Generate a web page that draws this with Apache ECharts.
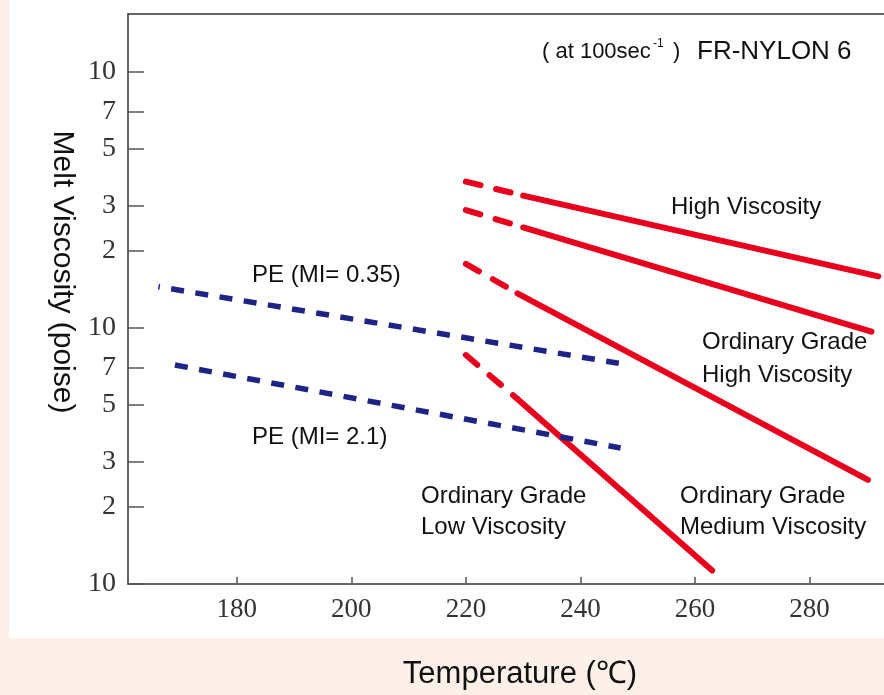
<!DOCTYPE html>
<html>
<head>
<meta charset="utf-8">
<script src="https://cdn.jsdelivr.net/npm/echarts@6/dist/echarts.min.js"></script>
<style>
html, body { margin: 0; padding: 0; background: #fdf0e9; }
#main { width: 884px; height: 695px; }
</style>
</head>
<body>
<div id="main"></div>
<script>
// melt viscosity (poise) vs temperature (C)
// red lines: dashed part below ~230C, solid above
var highViscDash = [[220, 3730], [230, 3290]];
var highViscSolid = [[230, 3290], [292, 1590]];
var ordHighDash = [[220, 2890], [230, 2470]];
var ordHighSolid = [[230, 2470], [290.8, 967]];
var ordMedDash = [[220, 1780], [229, 1366]];
var ordMedSolid = [[229, 1366], [290.2, 255]];
var ordLowDash = [[220, 784], [229, 528]];
var ordLowSolid = [[229, 528], [263, 113]];
// PE reference lines
var pe035 = [[166.3, 1450], [246.7, 728]];
var pe21 = [[169.2, 717], [247, 340]];

var xTicks = [180, 200, 220, 240, 260, 280];
var yTicks = [100, 200, 300, 500, 700, 1000, 2000, 3000, 5000, 7000, 10000];

var RED = '#e8001c';
var NAVY = '#1e2388';
var labelFont = "'Liberation Sans', Arial, sans-serif";
var tickFont = "'Liberation Serif', serif";

var myChart = echarts.init(document.getElementById('main'));

function redLine (name, data, dashed) {
  return {
    name: name,
    type: 'line',
    data: data,
    symbol: 'none',
    silent: true,
    lineStyle: {
      color: RED,
      width: 6,
      cap: 'round',
      type: dashed ? [15, 16] : 'solid'
    }
  }
}

function peLine (name, data, offset) {
  return {
    name: name,
    type: 'line',
    data: data,
    symbol: 'none',
    silent: true,
    lineStyle: {
      color: NAVY,
      width: 5.5,
      type: [13, 11.5],
      dashOffset: offset
    }
  }
}

function txt (x, y, text, size, lineHeight) {
  return {
    type: 'text',
    x: x,
    y: y,
    silent: true,
    style: {
      text: text,
      font: size + 'px ' + labelFont,
      lineHeight: lineHeight || size,
      fill: '#111',
      verticalAlign: 'middle'
    }
  }
}

var option = {
  backgroundColor: '#fdf0e9',
  animation: false,
  grid: {
    left: 128,
    top: 14,
    right: -2,
    bottom: 111
  },
  graphic: [
    // white panel behind the plot
    { type: 'rect', z: -10, silent: true, shape: { x: 9, y: 0, width: 880, height: 638 }, style: { fill: '#fff' } },
    txt(542, 52, '( at 100sec', 22),
    txt(653, 44, '-1', 12),
    txt(673, 52, ')', 22),
    txt(697, 52, 'FR-NYLON 6', 26),
    txt(671, 207, 'High Viscosity', 24),
    txt(702, 359, 'Ordinary Grade\nHigh Viscosity', 24, 33),
    txt(421, 512, 'Ordinary Grade\nLow Viscosity', 24, 31),
    txt(680, 512, 'Ordinary Grade\nMedium Viscosity', 24, 31),
    txt(252, 275, 'PE (MI= 0.35)', 24),
    txt(252, 437, 'PE (MI= 2.1)', 24)
  ],
  xAxis: [{
    type: 'value',
    min: 161,
    max: 293,
    name: 'Temperature (℃)',
    nameLocation: 'middle',
    nameGap: 75,
    nameTextStyle: { color: '#111', fontSize: 31, fontFamily: labelFont, padding: [0, 0, 0, 28] },
    axisLine: { lineStyle: { color: '#333', width: 1.5 } },
    axisTick: { inside: true, length: 7, customValues: xTicks, lineStyle: { color: '#555', width: 1.5 } },
    axisLabel: { customValues: xTicks, color: '#333', fontSize: 27, fontFamily: tickFont, margin: 12 },
    splitLine: { show: false }
  }, {
    // top frame line only
    type: 'value',
    position: 'top',
    min: 161,
    max: 293,
    axisLine: { show: true, lineStyle: { color: '#333', width: 1.5 } },
    axisTick: { show: false },
    axisLabel: { show: false },
    splitLine: { show: false }
  }],
  yAxis: {
    type: 'log',
    min: 100,
    max: 16850,
    name: 'Melt Viscosity (poise)',
    nameLocation: 'middle',
    nameRotate: -90,
    nameGap: 46,
    nameTextStyle: { color: '#111', fontSize: 30, fontFamily: labelFont, padding: [0, 54, 0, 0] },
    axisLine: { show: true, lineStyle: { color: '#333', width: 1.5 } },
    axisTick: { show: true, inside: true, length: 16, customValues: yTicks, lineStyle: { color: '#555', width: 1.5 } },
    axisLabel: {
      customValues: yTicks,
      color: '#333',
      fontSize: 28,
      fontFamily: tickFont,
      margin: 12,
      formatter: function (v) {
        var s = String(Math.round(v));
        return s.charAt(0) === '1' ? '10' : s.charAt(0);
      }
    },
    splitLine: { show: false },
    minorSplitLine: { show: false }
  },
  series: [
    redLine('High Viscosity dash', highViscDash, true),
    redLine('High Viscosity', highViscSolid, false),
    redLine('Ordinary Grade High Viscosity dash', ordHighDash, true),
    redLine('Ordinary Grade High Viscosity', ordHighSolid, false),
    redLine('Ordinary Grade Medium Viscosity dash', ordMedDash, true),
    redLine('Ordinary Grade Medium Viscosity', ordMedSolid, false),
    redLine('Ordinary Grade Low Viscosity dash', ordLowDash, true),
    redLine('Ordinary Grade Low Viscosity', ordLowSolid, false),
    peLine('PE (MI= 0.35)', pe035, 11.5),
    peLine('PE (MI= 2.1)', pe21, 0)
  ]
};
myChart.setOption(option);
</script>
</body>
</html>
